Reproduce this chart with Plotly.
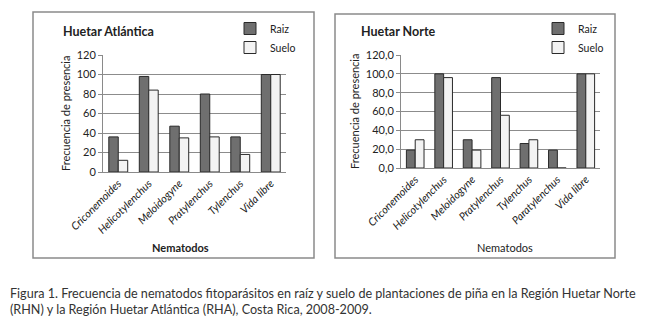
import plotly.graph_objects as go

# ---- data ----
cats_rha = ["Criconemoides", "Helicotylenchus", "Meloidogyne", "Pratylenchus", "Tylenchus", "Vida libre"]
raiz_rha = [36, 98, 47, 80, 36, 100]
suelo_rha = [12, 84, 35, 36, 18, 100]

cats_rhn = ["Criconemoides", "Helicotylenchus", "Meloidogyne", "Pratylenchus", "Tylenchus", "Paratylenchus", "Vida libre"]
raiz_rhn = [19, 100, 30, 96, 26, 19, 100]
suelo_rhn = [30, 96, 19, 56, 30, 0, 100]

yticks = [0, 20, 40, 60, 80, 100, 120]
yticktext_rha = ["0", "20", "40", "60", "80", "100", "120"]
yticktext_rhn = ["0,0", "20,0", "40,0", "60,0", "80,0", "100,0", "120,0"]

# the page body has an 8px margin, so the figure is sized to the visible area
OFF = 8
W, H = 653 - OFF, 325 - OFF
FONT = "Lato"
RAIZ_FILL = "#6f6f6f"
SUELO_FILL = "#f3f3f3"
EDGE = "#2a2a2a"


def px(x):
    return (x - OFF) / W


def py(y):
    return 1 - (y - OFF) / H


def ital(lst):
    return ["<i>%s</i>" % c for c in lst]


fig = go.Figure()

fig.add_trace(go.Bar(x=ital(cats_rha), y=raiz_rha, name="Raiz", marker=dict(color=RAIZ_FILL, line=dict(color=EDGE, width=1)),
                     xaxis="x", yaxis="y", legend="legend"))
fig.add_trace(go.Bar(x=ital(cats_rha), y=suelo_rha, name="Suelo", marker=dict(color=SUELO_FILL, line=dict(color=EDGE, width=1)),
                     xaxis="x", yaxis="y", legend="legend"))
fig.add_trace(go.Bar(x=ital(cats_rhn), y=raiz_rhn, name="Raiz", marker=dict(color=RAIZ_FILL, line=dict(color=EDGE, width=1)),
                     xaxis="x2", yaxis="y2", legend="legend2"))
fig.add_trace(go.Bar(x=ital(cats_rhn), y=suelo_rhn, name="Suelo", marker=dict(color=SUELO_FILL, line=dict(color=EDGE, width=1)),
                     xaxis="x2", yaxis="y2", legend="legend2"))

axis_font = dict(family=FONT, size=11, color="#222")
xcommon = dict(type="category", showgrid=False, showline=True, linecolor="#8a8a8a", linewidth=1,
               ticks="", tickangle=-45, tickfont=dict(family=FONT, size=10.8, color="#222"), automargin=False)
ycommon = dict(range=[0, 120], tickvals=yticks, showgrid=True, gridcolor="#8c8c8c", gridwidth=1,
               showline=True, linecolor="#8a8a8a", linewidth=1, ticks="outside", ticklen=4,
               tickcolor="#8a8a8a", tickfont=axis_font, zeroline=False, automargin=False)

fig.update_layout(
    width=W, height=H, margin=dict(l=0, r=0, t=0, b=0, pad=0, autoexpand=False),
    paper_bgcolor="white", plot_bgcolor="white",
    barmode="group", bargap=0.38, bargroupgap=0,
    font=dict(family=FONT, color="#222"),
    xaxis=dict(domain=[px(103), px(286)], anchor="y", **xcommon),
    yaxis=dict(domain=[py(172), py(55)], anchor="x", ticktext=yticktext_rha, **ycommon),
    xaxis2=dict(domain=[px(401), px(600)], anchor="y2", **xcommon),
    yaxis2=dict(domain=[py(168), py(55)], anchor="x2", ticktext=yticktext_rhn, **ycommon),
    legend=dict(x=px(230), y=py(14), xanchor="left", yanchor="top", bgcolor="rgba(0,0,0,0)",
                font=dict(family=FONT, size=10.5, color="#222"), itemwidth=30, tracegroupgap=0),
    legend2=dict(x=px(538), y=py(14), xanchor="left", yanchor="top", bgcolor="rgba(0,0,0,0)",
                 font=dict(family=FONT, size=10.5, color="#222"), itemwidth=30, tracegroupgap=0),
    showlegend=True,
)

# panel boxes
fig.add_shape(type="rect", xref="paper", yref="paper", x0=px(33), x1=px(314), y0=py(258), y1=py(12),
              line=dict(color="#8a8a8a", width=1.5), fillcolor="rgba(0,0,0,0)", layer="below")
fig.add_shape(type="rect", xref="paper", yref="paper", x0=px(335), x1=px(615), y0=py(258), y1=py(14),
              line=dict(color="#8a8a8a", width=1.5), fillcolor="rgba(0,0,0,0)", layer="below")

ann = [
    dict(text="<b>Huetar Atlántica</b>", x=px(61), y=py(32), xanchor="left", yanchor="middle",
         font=dict(family=FONT, size=12.5, color="#222")),
    dict(text="<b>Huetar Norte</b>", x=px(359), y=py(32), xanchor="left", yanchor="middle",
         font=dict(family=FONT, size=12.5, color="#222")),
    dict(text="Frecuencia de presencia", x=px(66), y=py(114), textangle=-90, xanchor="center", yanchor="middle",
         font=dict(family=FONT, size=11, color="#222")),
    dict(text="Frecuencia de presencia", x=px(355), y=py(112), textangle=-90, xanchor="center", yanchor="middle",
         font=dict(family=FONT, size=11, color="#222")),
    dict(text="<b>Nematodos</b>", x=px(180), y=py(247), xanchor="center", yanchor="middle",
         font=dict(family=FONT, size=11, color="#222")),
    dict(text="Nematodos", x=px(505), y=py(247), xanchor="center", yanchor="middle",
         font=dict(family=FONT, size=11, color="#222")),
    dict(text="Figura 1. Frecuencia de nematodos fitoparásitos en raíz y suelo de plantaciones de piña en la Región Huetar Norte",
         x=px(8), y=py(293), xanchor="left", yanchor="middle", font=dict(family=FONT, size=12.6, color="#333")),
    dict(text="(RHN) y la Región Huetar Atlántica (RHA), Costa Rica, 2008-2009.",
         x=px(8), y=py(309), xanchor="left", yanchor="middle", font=dict(family=FONT, size=12.6, color="#333")),
]
for a in ann:
    a.update(xref="paper", yref="paper", showarrow=False)
fig.update_layout(annotations=ann)

fig.write_html("out.html")
